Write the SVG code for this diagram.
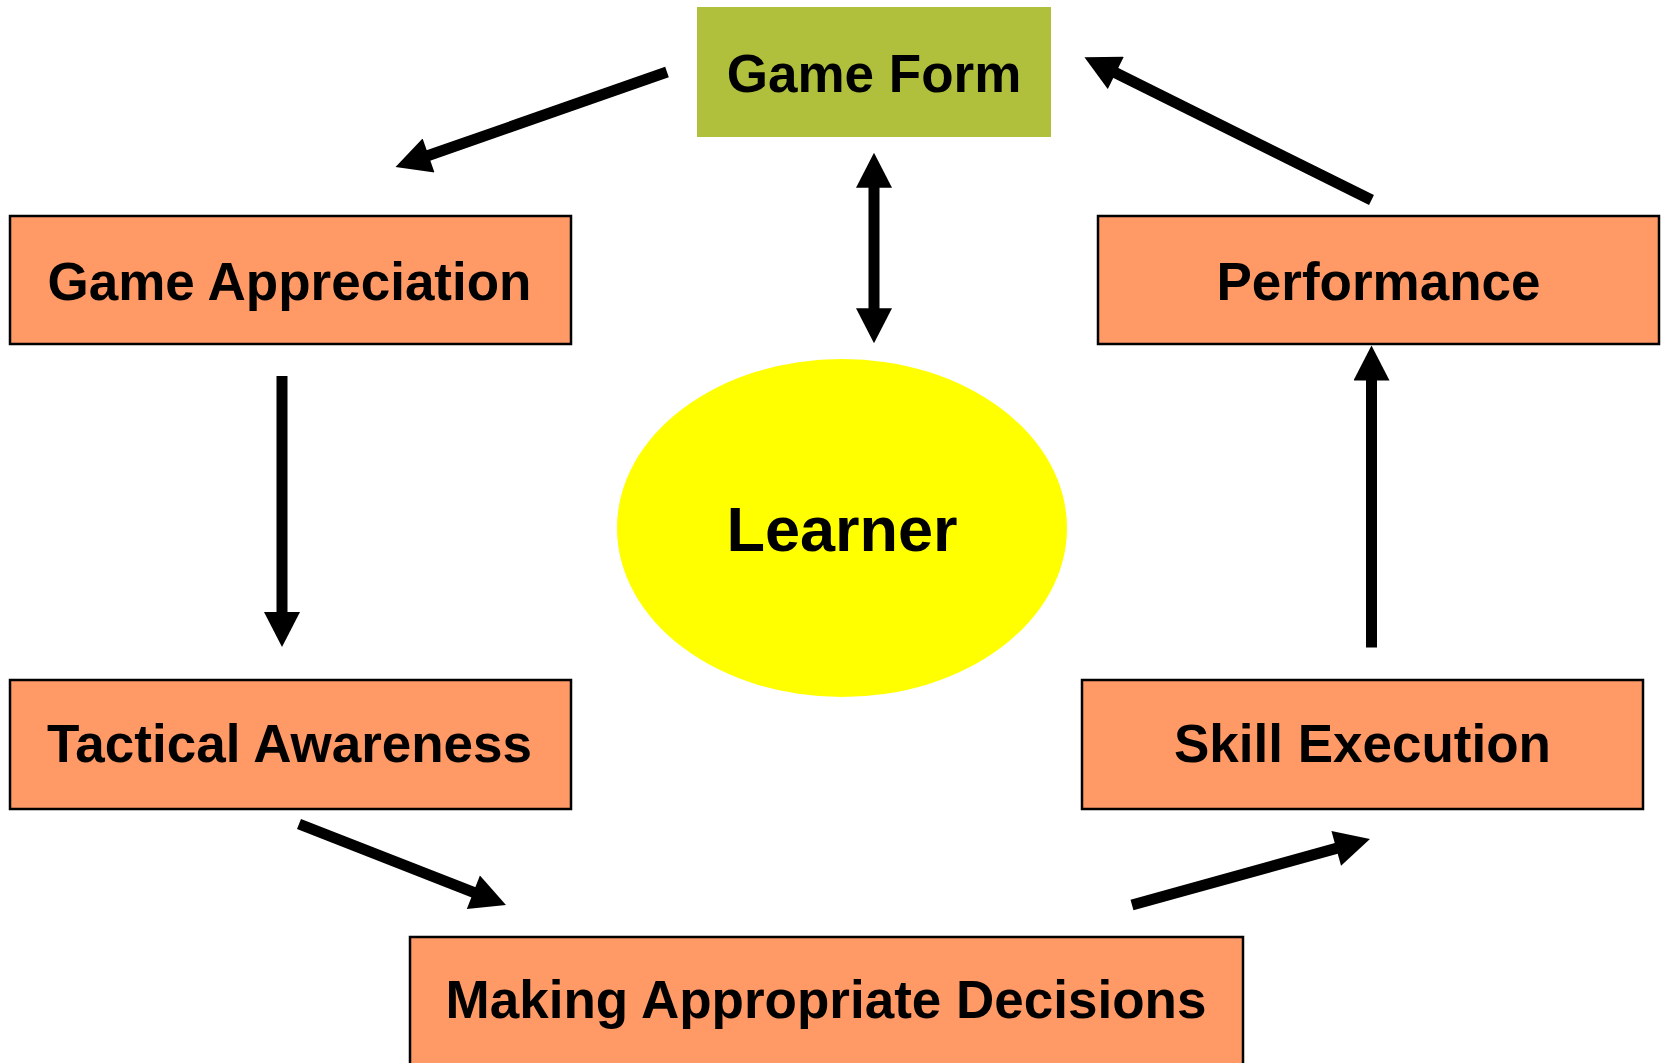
<svg xmlns="http://www.w3.org/2000/svg" width="1665" height="1063" viewBox="0 0 1665 1063">
<style>
.box{fill:#FF9966;stroke:#000;stroke-width:2.5}
.lbl{font-family:"Liberation Sans",Arial,sans-serif;font-weight:bold;font-size:53px;fill:#000;text-anchor:middle}
.conn{stroke:#000;stroke-width:11;fill:none}
</style>
<defs>
<marker id="ah" markerUnits="userSpaceOnUse" markerWidth="36" markerHeight="36" viewBox="0 0 35 36" refX="1" refY="18" orient="auto-start-reverse">
<path d="M0,0 L35,18 L0,36 Z" fill="#000"/>
</marker>
</defs>
<rect width="1665" height="1063" fill="#fff"/>
<g id="connectors">
<line class="conn" x1="667" y1="72" x2="427.6" y2="155.8" marker-end="url(#ah)"/>
<line class="conn" x1="1371.5" y1="200" x2="1114.9" y2="72.5" marker-end="url(#ah)"/>
<line class="conn" x1="874" y1="186.7" x2="874" y2="309.3" marker-start="url(#ah)" marker-end="url(#ah)"/>
<line class="conn" x1="282" y1="376" x2="282" y2="613" marker-end="url(#ah)"/>
<line class="conn" x1="1371.5" y1="647.5" x2="1371.5" y2="379.5" marker-end="url(#ah)"/>
<line class="conn" x1="299" y1="824" x2="474.3" y2="892.6" marker-end="url(#ah)"/>
<line class="conn" x1="1132" y1="905" x2="1337.2" y2="848.1" marker-end="url(#ah)"/>
</g>
<g id="game-form">
<rect x="697" y="7" width="354" height="130" fill="#B1C03C"/>
<text class="lbl" x="874" y="92">Game Form</text>
</g>
<g id="game-appreciation">
<rect class="box" x="10" y="216" width="561" height="128"/>
<text class="lbl" x="289.5" y="300">Game Appreciation</text>
</g>
<g id="performance">
<rect class="box" x="1098" y="216" width="561" height="128"/>
<text class="lbl" x="1378.5" y="300">Performance</text>
</g>
<g id="learner">
<ellipse cx="842" cy="528" rx="225" ry="169" fill="#FFFF00"/>
<text class="lbl" x="842" y="551" style="font-size:63px">Learner</text>
</g>
<g id="tactical-awareness">
<rect class="box" x="10" y="680" width="561" height="129"/>
<text class="lbl" x="289.5" y="762">Tactical Awareness</text>
</g>
<g id="skill-execution">
<rect class="box" x="1082" y="680" width="561" height="129"/>
<text class="lbl" x="1362.5" y="762">Skill Execution</text>
</g>
<g id="making-appropriate-decisions">
<rect class="box" x="410" y="937" width="833" height="140"/>
<text class="lbl" x="826" y="1018">Making Appropriate Decisions</text>
</g>
</svg>
